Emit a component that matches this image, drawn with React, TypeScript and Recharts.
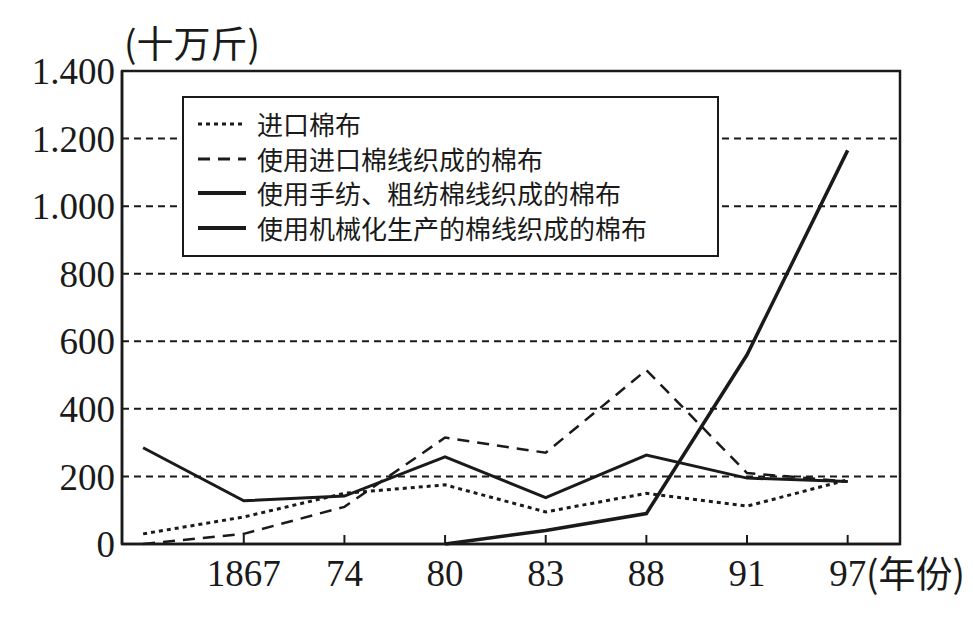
import { LineChart, Line, XAxis, YAxis, CartesianGrid, ReferenceArea } from "recharts";

const years = ["", "1867", "74", "80", "83", "88", "91", "97"];
const importedCloth = [30, 80, 150, 175, 95, 150, 112, 190];
const importedYarnCloth = [0, 30, 110, 315, 270, 515, 210, 185];
const handYarnCloth = [285, 128, 142, 258, 137, 263, 195, 185];
const machineYarnCloth = [null, null, null, 0, 40, 90, 560, 1165];
const yTicks = [0, 200, 400, 600, 800, 1000, 1200, 1400];

const seriesNames = [
  "进口棉布",
  "使用进口棉线织成的棉布",
  "使用手纺、粗纺棉线织成的棉布",
  "使用机械化生产的棉线织成的棉布",
];

const data = years.map((year, i) => ({
  i,
  year,
  a: importedCloth[i],
  b: importedYarnCloth[i],
  c: handYarnCloth[i],
  d: machineYarnCloth[i],
}));

// x domain leaves room before the first point and after 1897
const X_MIN = -0.21;
const X_MAX = 7.52;

const SERIF = '"Liberation Serif", "DejaVu Serif", serif';
const CJK = '"Noto Sans CJK SC", sans-serif';
const INK = "#1a1a1a";

const legendRows = [
  { name: seriesNames[0], dash: "4 4", width: 3 },
  { name: seriesNames[1], dash: "12 8", width: 3 },
  { name: seriesNames[2], dash: undefined, width: 4 },
  { name: seriesNames[3], dash: undefined, width: 4 },
];

function LegendBox() {
  return (
    <div
      style={{
        position: "absolute",
        left: 182,
        top: 96,
        border: `2.5px solid ${INK}`,
        background: "#fff",
        width: 537,
        height: 161,
        boxSizing: "border-box",
        padding: "9px 0 0 14px",
      }}
    >
      {legendRows.map((r) => (
        <div key={r.name} style={{ display: "flex", alignItems: "center", height: 34.5 }}>
          <svg width={50} height={10}>
            <line x1={0} x2={48} y1={5} y2={5} stroke={INK} strokeWidth={r.width} strokeDasharray={r.dash} />
          </svg>
          <span style={{ fontFamily: CJK, fontSize: 26, color: INK, marginLeft: 9, lineHeight: 1 }}>{r.name}</span>
        </div>
      ))}
    </div>
  );
}

function YearTick({ x, y, payload }: { x: number; y: number; payload: { value: number } }) {
  const label = years[payload.value];
  if (!label) return null;
  return (
    <g>
      <line x1={x} x2={x} y1={y} y2={y - 9} stroke={INK} strokeWidth={2} />
      <text x={x} y={y + 42} textAnchor="middle" fontFamily={SERIF} fontSize={37} fill={INK}>
        {label}
      </text>
    </g>
  );
}

const fmt = (v: number) => (v >= 1000 ? `${Math.floor(v / 1000)}.${String(v % 1000).padStart(3, "0")}` : String(v));

export default function App() {
  return (
    <div style={{ position: "absolute", left: 0, top: 0, width: 973, height: 618, overflow: "hidden", background: "#fff" }}>
      <LineChart width={973} height={618} data={data} margin={{ top: 71, right: 73, bottom: 0, left: 0 }}>
        <CartesianGrid vertical={false} stroke={INK} strokeDasharray="7 5" strokeWidth={2} />
        <ReferenceArea x1={X_MIN} x2={X_MAX} y1={0} y2={1400} fill="none" stroke={INK} strokeWidth={2.5} />
        <XAxis
          dataKey="i"
          type="number"
          domain={[X_MIN, X_MAX]}
          ticks={[1, 2, 3, 4, 5, 6, 7]}
          allowDataOverflow
          height={74}
          axisLine={{ stroke: INK, strokeWidth: 2.5 }}
          tickLine={false}
          tickSize={0}
          tickMargin={0}
          interval={0}
          tick={YearTick}
        />
        <YAxis
          width={122}
          domain={[0, 1400]}
          ticks={yTicks}
          tickFormatter={fmt}
          axisLine={{ stroke: INK, strokeWidth: 2.5 }}
          tickLine={false}
          tickSize={0}
          tickMargin={7}
          tick={{ fontFamily: SERIF, fontSize: 37, fill: INK }}
        />
        <Line dataKey="a" name={seriesNames[0]} stroke={INK} strokeWidth={3} strokeDasharray="4 4" dot={false} isAnimationActive={false} />
        <Line dataKey="b" name={seriesNames[1]} stroke={INK} strokeWidth={2.5} strokeDasharray="12 8" dot={false} isAnimationActive={false} />
        <Line dataKey="c" name={seriesNames[2]} stroke={INK} strokeWidth={3} dot={false} isAnimationActive={false} />
        <Line dataKey="d" name={seriesNames[3]} stroke={INK} strokeWidth={3.5} dot={false} isAnimationActive={false} />
      </LineChart>
      <LegendBox />
      <div style={{ position: "absolute", left: 124, top: 24, fontFamily: CJK, fontSize: 37, color: INK, lineHeight: 1 }}>
        (十万斤)
      </div>
      <div style={{ position: "absolute", left: 866, top: 554, fontFamily: CJK, fontSize: 37, color: INK, lineHeight: 1, whiteSpace: "nowrap" }}>
        (年份)
      </div>
    </div>
  );
}
